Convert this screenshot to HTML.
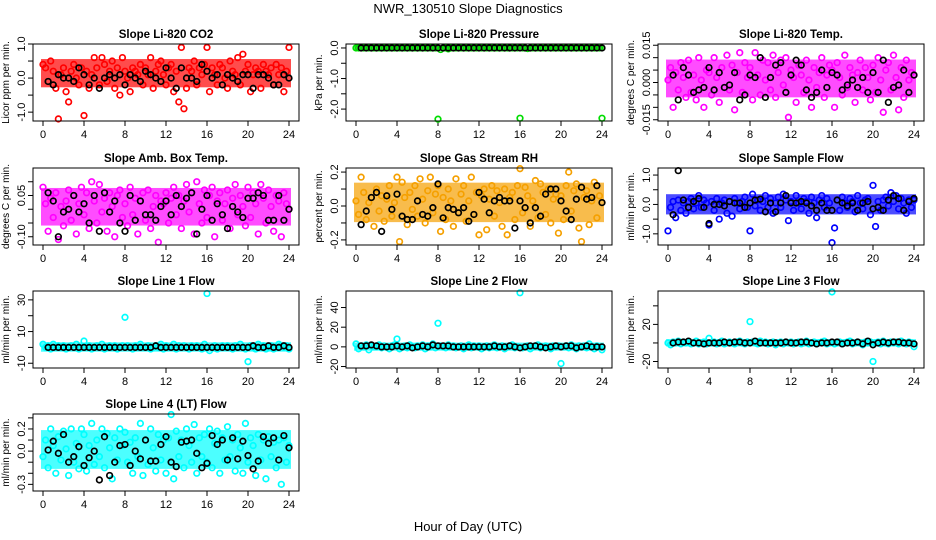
<!DOCTYPE html>
<html><head><meta charset="utf-8"><style>
html,body{margin:0;padding:0;background:#fff;}
svg{display:block;font-family:"Liberation Sans",sans-serif;}
</style></head><body>
<svg id="c" width="936" height="540" viewBox="0 0 936 540" xmlns="http://www.w3.org/2000/svg">
<text x="468" y="13" text-anchor="middle" font-size="13">NWR_130510  Slope Diagnostics</text>
<text x="468" y="531" text-anchor="middle" font-size="13">Hour of Day (UTC)</text>
</svg>
<script>
const co2Col=[0.4,0.3,-0.1,0.5,0.2,-0.3,-1.2,0.1,
0.3,-0.4,-0.7,0.2,0.4,0.0,-0.2,0.3,
-1.1,0.2,-0.3,0.1,0.6,0.3,-0.2,0.6,
0.4,-0.1,0.2,0.5,-0.3,0.3,-0.5,0.6,
0.2,0.0,-0.4,0.3,0.2,0.1,0.4,-0.2,
0.3,0.1,0.6,-0.3,0.2,0.4,0.5,0.1,
-0.2,0.3,0.4,-0.4,0.2,-0.7,0.9,-0.9,
-0.3,0.3,0.2,0.5,-0.2,0.3,0.1,0.4,
0.9,-0.4,0.3,0.1,-0.2,0.4,0.3,0.0,
-0.3,0.5,0.2,0.1,0.6,-0.2,0.7,0.2,
0.4,-0.4,0.1,0.3,0.2,-0.3,0.4,0.2,
0.1,0.3,-0.2,0.4,0.1,0.3,-0.4,0.2,0.9];
const co2Blk=[-0.1,-0.2,0.1,0.0,0.0,-0.1,0.3,0.1,
-0.2,0.0,-0.3,0.0,0.1,0.0,0.1,-0.2,
0.1,0.0,-0.1,0.2,0.1,0.0,-0.1,0.3,
0.0,-0.3,0.3,0.0,0.0,-0.1,0.4,0.2,
0.0,0.1,-0.2,0.1,0.0,-0.1,0.1,0.1,
-0.3,0.1,0.1,0.0,-0.2,-0.2,0.1,0.0];
const presCol=[0,0,0,0,0,0,0,0, 0,0,0,0,0,0,0,0, 0,0,0,0,0,0,0,0, 0,0,0,0,0,0,0,0,
-2.33,-0.05,0,0,-0.03,0,0,0, 0,0,0,0,0,0,0,0, 0,0,0,0,0,0,0,0, 0,0,0,0,0,0,0,0,
-2.3,0,0,-0.02,0,0,0,0, 0,0,0,0,0,0,0,0, 0,0,0,0,0,0,0,0, 0,0,0,0,0,0,0,0,-2.3];
const presBlk=[0,0,0,0,0,0,0,0, 0,0,0,0,0,0,0,0, 0,0,0,0,0,0,0,0, 0,0,0,0,0,0,0,0, 0,0,0,0,0,0,0,0, 0,0,0,0,0,0,0,0];
const ltCol=[0.001,0.006,-0.01,0.004,-0.003,0.008,0.002,-0.006,
0.009,-0.004,0.003,-0.007,0.01,0.001,-0.01,0.005,
0.004,-0.005,0.01,0.002,-0.008,0.006,-0.002,0.011,
-0.003,0.007,-0.011,0.004,0.012,-0.004,0.008,0.002,
0.006,-0.007,0.012,0.003,-0.005,0.009,0.001,0.008,
-0.003,0.011,-0.006,0.004,0.009,-0.001,0.01,-0.014,
0.005,0.002,-0.008,0.007,0.003,-0.004,0.009,0.001,
-0.01,0.006,-0.002,0.004,0.01,-0.006,0.003,0.007,
0.005,-0.01,0.008,0.002,-0.005,0.011,-0.002,0.006,
0.003,-0.008,0.004,0.009,-0.003,0.006,0.002,-0.007,
0.007,-0.004,0.01,0.001,-0.012,0.005,0.008,-0.003,
0.011,0.002,-0.011,0.006,-0.006,0.009,0.001,0.004,0.003];
const ltBlk=[0.003,-0.007,0.006,0.003,-0.004,-0.003,-0.002,0.006,
-0.003,0.004,-0.002,-0.001,0.004,-0.007,-0.005,0.003,
0.002,0.01,-0.006,0.002,0.007,0.008,-0.004,0.003,
0.009,0.007,-0.003,-0.006,-0.004,0.005,-0.002,0.004,
0.003,-0.003,-0.001,0.001,-0.002,0.002,-0.004,0.004,
-0.004,0.009,-0.008,-0.002,-0.001,0.005,-0.004,0.003];
const ambCol=[0.08,0.02,-0.08,0.04,-0.03,0.06,-0.11,0.01,
-0.06,0.03,0.07,-0.04,0.05,-0.09,0.02,0.08,
-0.02,0.06,-0.07,0.1,0.03,-0.05,0.09,-0.01,
0.04,-0.08,0.06,0.01,-0.1,0.05,0.07,-0.03,
0.02,-0.06,0.08,-0.02,0.04,-0.09,0.03,0.06,
-0.04,0.07,-0.07,0.01,0.05,-0.12,0.03,0.02,
0.06,-0.05,0.04,0.08,-0.02,0.05,-0.07,0.03,
0.09,-0.01,0.06,-0.09,0.1,0.02,-0.05,0.07,
-0.03,0.05,0.08,-0.1,0.03,0.06,-0.04,0.02,
0.07,-0.07,0.04,0.09,-0.02,0.05,0.01,-0.06,
0.08,-0.03,0.06,0.02,-0.09,0.09,0.04,-0.05,
0.07,0.01,-0.08,0.05,0.03,-0.1,0.06,0.02,0.0];
const ambBlk=[0.06,0.03,-0.1,-0.01,0.0,0.05,-0.01,0.02,
-0.05,0.05,-0.08,0.06,-0.01,0.03,-0.05,-0.08,
0.05,-0.04,0.03,-0.02,-0.02,-0.04,0.01,0.03,
-0.02,0.05,0.01,0.04,0.06,-0.09,0.0,0.05,
-0.04,0.02,-0.02,-0.07,0.01,-0.01,-0.03,0.04,
0.04,0.06,0.05,-0.04,-0.04,0.05,-0.04,0.0];
const rhCol=[0.03,-0.05,0.17,0.08,-0.08,0.02,0.05,-0.12,
0.1,-0.03,0.06,-0.09,0.04,0.12,-0.06,0.02,
0.17,-0.21,0.14,0.05,-0.11,0.08,-0.02,0.12,
-0.06,0.16,0.04,-0.1,0.09,0.17,-0.04,0.07,
0.12,-0.15,0.05,-0.08,0.1,0.03,-0.12,0.16,
-0.04,0.07,0.12,-0.09,0.03,0.17,-0.05,0.08,
-0.17,0.06,0.1,-0.14,0.04,0.12,-0.06,0.09,
0.02,-0.12,0.1,-0.17,0.05,0.08,-0.08,0.12,
0.22,-0.04,0.11,0.06,-0.12,0.03,0.15,-0.07,
0.13,0.08,-0.05,0.1,-0.1,0.04,0.07,-0.16,
0.06,-0.08,0.12,0.2,-0.03,0.09,0.13,-0.13,
-0.21,0.05,0.09,-0.11,0.03,0.14,-0.07,0.06,0.02];
const rhBlk=[-0.11,-0.03,0.05,0.08,-0.15,0.06,-0.02,0.07,
-0.06,-0.08,-0.08,0.03,-0.05,-0.06,-0.01,0.13,
-0.07,-0.01,-0.02,-0.04,-0.01,-0.09,-0.05,0.08,
0.04,-0.04,0.03,0.05,0.03,0.03,-0.13,0.03,
-0.01,-0.1,-0.01,-0.06,0.07,0.1,0.1,0.03,
-0.03,-0.08,0.04,0.11,0.04,0.05,0.12,0.02];
const sfCol=[-0.9,-0.1,0.1,-0.45,0.15,-0.2,0.05,-0.3,
0.1,0.2,-0.15,0.05,0.3,-0.1,0.15,0.05,
-0.7,0.1,-0.2,0.2,-0.5,0.05,0.15,-0.3,
0.1,-0.4,0.2,0.05,-0.15,0.1,0.25,-0.1,
-0.9,0.35,-0.05,0.15,-0.2,0.1,0.3,-0.1,
0.2,-0.3,0.05,0.25,-0.1,0.35,0.15,-0.55,
0.1,-0.2,0.3,0.05,-0.15,0.2,0.1,-0.3,
0.25,0.05,-0.45,0.15,0.3,-0.1,0.2,0.05,
-1.3,-0.8,0.15,-0.2,0.25,0.05,-0.1,0.2,
0.1,-0.25,0.3,0.05,-0.15,0.15,0.2,-0.35,
0.65,-0.75,0.1,-0.2,0.15,0.25,-0.05,0.4,
0.1,0.3,-0.15,0.2,0.05,-0.3,0.15,-0.1,0.15];
const sfBlk=[-0.35,1.15,0.15,-0.1,0.1,0.2,-0.1,-0.65,
0.0,0.0,-0.05,0.1,0.05,0.05,-0.1,0.05,
0.15,0.18,-0.25,0.05,-0.25,0.05,0.3,0.05,
0.05,0.1,0.05,-0.05,-0.2,0.05,-0.2,-0.2,
0.15,0.05,-0.05,0.05,-0.2,0.05,0.1,-0.15,
-0.1,-0.2,0.15,0.3,0.2,-0.2,0.1,0.2];
const l1Col=[2,0,1,-1,2,0,1,0,
1,-1,0,1,0,2,-1,0,
4,0,1,-1,0,1,0,2,
-1,0,1,0,1,-1,0,1,
19,1,0,-1,1,0,2,0,
0,1,-1,0,1,0,2,-1,
1,0,0,2,-1,1,0,1,
0,-1,1,0,1,0,-1,2,
34,-2,0,1,-1,0,1,0,
1,0,-1,1,0,2,0,-1,
-9,1,0,-1,2,0,1,-1,
0,1,-1,0,2,1,0,1,-1];
const l1Blk=[0,0,0,0,0,0,0,0, 0,0,0,0,0,0,0,0, 0,0,0,0,0,1,0,0, 0,0,0,0,0,0,0,0, 0,0,0,0,0,0,0,0, 1,0,0,1,0,0,1,0];
const l2Col=[3,-2,1,0,2,-3,1,0,
0,2,-1,1,0,-2,1,2,
8,-2,0,1,-1,2,0,-1,
1,0,2,-2,1,0,3,-1,
24,1,0,-1,2,0,1,-1,
0,1,-2,0,2,-1,1,0,
1,-2,0,1,-1,0,2,-1,
0,1,-2,0,1,2,-1,0,
55,-1,0,1,-2,0,1,2,
-1,0,1,0,-2,1,0,1,
-17,0,1,-1,2,0,-2,1,
0,1,-1,3,0,-2,1,0,-3];
const l2Blk=[1,1,2,1,0,0,0,1, 0,1,-1,0,1,0,2,1, 1,1,0,0,0,0,0,0, 0,0,1,0,0,1,0,-1, 0,1,1,0,-1,0,1,0, 1,1,-1,0,1,0,0,0];
const l3Col=[0,-2,1,0,2,-1,1,0,
1,-1,0,2,-1,0,1,-1,
5,0,1,-1,0,2,-1,0,
1,0,-1,1,2,0,-1,1,
23,1,0,-1,2,0,1,-1,
0,1,-2,0,1,-1,1,0,
1,-1,0,1,-1,0,2,-1,
0,1,-1,0,1,2,-1,0,
55,-1,0,1,-1,0,1,2,
-1,0,1,0,-2,1,0,1,
-20,0,1,-1,2,0,-1,1,
0,1,-1,2,0,-1,1,0,-4];
const l3Blk=[0,1,1,2,0,0,-1,0, 0,0,1,0,1,1,0,0, 2,0,0,0,0,0,1,0, 0,1,1,0,-1,0,0,1, 1,-1,0,0,1,-1,2,-2, 0,1,0,1,1,0,0,-1];
const l4Col=[-0.05,0.1,-0.15,0.2,0.05,-0.2,0.13,-0.08,
0.18,0.02,-0.22,0.2,-0.1,0.07,-0.16,0.2,
0.15,-0.18,0.05,0.25,-0.12,0.1,-0.05,0.2,
-0.15,0.16,0.03,-0.25,0.12,-0.08,0.2,0.05,
0.17,-0.1,0.08,-0.2,0.12,-0.05,0.25,-0.22,
0.1,-0.12,0.2,0.03,-0.18,0.15,-0.08,0.1,
-0.2,0.12,0.33,-0.25,0.18,-0.05,0.1,-0.15,
0.2,0.05,-0.1,0.24,-0.2,0.12,-0.05,0.15,
-0.1,0.2,-0.15,0.07,0.18,-0.2,0.12,-0.08,
0.22,-0.05,0.1,-0.18,0.15,0.03,-0.2,0.25,
-0.1,0.12,0.05,-0.22,0.15,-0.08,0.1,-0.25,
0.13,-0.05,0.08,-0.15,0.1,-0.3,0.12,-0.1,0.05];
const l4Blk=[0.01,0.09,-0.02,0.15,-0.1,-0.05,0.04,-0.13,
-0.06,0.0,-0.26,0.13,-0.22,-0.1,0.05,0.06,
-0.13,0.0,-0.07,0.1,-0.09,-0.09,0.06,0.13,
-0.1,-0.14,0.08,0.09,0.1,-0.02,-0.15,-0.11,
0.14,0.06,0.1,-0.08,0.12,-0.07,0.09,-0.04,
-0.16,-0.09,0.13,0.07,0.12,-0.08,0.14,0.03];
const xTicks=[0,4,8,12,16,20,24];

const NS="http://www.w3.org/2000/svg";
const svg=document.getElementById('c');
function mk(tag,attrs,parent){const e=document.createElementNS(NS,tag);for(const k in attrs)e.setAttribute(k,attrs[k]);(parent||svg).appendChild(e);return e;}
function spread(vals){
  let m=vals.reduce((a,b)=>a+b,0)/vals.length;
  let s=Math.sqrt(vals.reduce((a,b)=>a+(b-m)*(b-m),0)/vals.length);
  const core=vals.filter(v=>Math.abs(v-m)<=2.5*s);
  m=core.reduce((a,b)=>a+b,0)/core.length;
  s=Math.sqrt(core.reduce((a,b)=>a+(b-m)*(b-m),0)/core.length);
  return [m,s];
}
const colX=[33,346,658], rowY=[44,168,291,414], W=266, H=77;
function panel(col,row,title,ylab,color,ymin,ymax,ticks,labels,colVals,blkVals,name){
  const g=mk('g',{});
  
  
  const bx=colX[col], by=rowY[row];
  const sx=h=>bx+10+h/24*246;
  const sy=v=>by+H-(v-ymin)/(ymax-ymin)*H;
  const t=mk('text',{x:bx+W/2,y:by-6,'text-anchor':'middle','font-size':11.5,'font-weight':'bold'},g);t.textContent=title;
  
  
  const yl=mk('text',{x:0,y:0,transform:`translate(${bx-24},${by+H/2}) rotate(-90)`,'text-anchor':'middle','font-size':10},g);yl.textContent=ylab;
  
  
  mk('line',{x1:sx(0),x2:sx(24),y1:by+H,y2:by+H,stroke:'#000'},g);
  xTicks.forEach(h=>{mk('line',{x1:sx(h),x2:sx(h),y1:by+H,y2:by+H+5,stroke:'#000'},g);
    const tl=mk('text',{x:sx(h),y:by+H+17,'text-anchor':'middle','font-size':11},g);tl.textContent=h;
    
    });
  ticks.forEach((v,i)=>{mk('line',{x1:bx-5,x2:bx,y1:sy(v),y2:sy(v),stroke:'#000'},g);
    if(labels[i]){const tl=mk('text',{x:0,y:0,transform:`translate(${bx-8},${sy(v)}) rotate(-90)`,'text-anchor':'middle','font-size':11},g);tl.textContent=labels[i];
    
    }});
  // dense cloud band derived from the data spread
  const [m,s]=spread(colVals);
  const top=Math.max(sy(m+s)-2.5,by+1), bot=Math.min(sy(m-s)+2.5,by+H-1);
  const band=mk('rect',{x:sx(0)-2,y:top,width:246+4,height:Math.max(bot-top,4),fill:color,opacity:0.7},g);
  
  
  const pts=mk('g',{fill:'none','stroke-width':1.7},g);
  colVals.forEach((v,i)=>{const c=mk('circle',{cx:sx(i*24/(colVals.length-1)),cy:sy(v),r:2.8,stroke:color},pts);
    
    });
  blkVals.forEach((v,i)=>{const c=mk('circle',{cx:sx((i+1)*24/blkVals.length),cy:sy(v),r:2.8,stroke:'#000'},pts);
    
    });
  const box=mk('rect',{x:bx,y:by,width:W,height:H,fill:'none',stroke:'#000'},g);
  
  
}
panel(0,0,'Slope Li-820 CO2','Licor ppm per min.','#ff0000',-1.26,1.0,[-1,-0.5,0,0.5,1],['-1.0','','0.0','','1.0'],co2Col,co2Blk,'co2');
panel(1,0,'Slope Li-820 Pressure','kPa per min.','#00dd00',-2.39,0.13,[-2,-1.5,-1,-0.5,0],['-2.0','','-1.0','','0.0'],presCol,presBlk,'pressure');
panel(2,0,'Slope Li-820 Temp.','degrees C per min.','#ff00ff',-0.0155,0.0155,[-0.015,-0.01,-0.005,0,0.005,0.01,0.015],['-0.015','','','0.000','','','0.015'],ltCol,ltBlk,'li820-temp');
panel(0,1,'Slope Amb. Box Temp.','degrees C per min.','#ff00ff',-0.13,0.15,[-0.1,-0.05,0,0.05,0.1],['-0.10','','','0.05',''],ambCol,ambBlk,'amb-box-temp');
panel(1,1,'Slope Gas Stream RH','percent per min.','#f5a000',-0.23,0.224,[-0.2,-0.1,0,0.1,0.2],['-0.2','','0.0','','0.2'],rhCol,rhBlk,'gas-stream-rh');
panel(2,1,'Slope Sample Flow','ml/min per min.','#0000ff',-1.38,1.24,[-1,-0.5,0,0.5,1],['-1.0','','0.0','','1.0'],sfCol,sfBlk,'sample-flow');
panel(0,2,'Slope Line 1 Flow','ml/min per min.','#00ffff',-13,35.6,[-10,0,10,20,30],['-10','','10','','30'],l1Col,l1Blk,'line1-flow');
panel(1,2,'Slope Line 2 Flow','ml/min per min.','#00ffff',-21.5,56.8,[-20,0,20,40],['-20','0','20','40'],l2Col,l2Blk,'line2-flow');
panel(2,2,'Slope Line 3 Flow','ml/min per min.','#00ffff',-27,56,[-20,0,20,40],['-20','','20',''],l3Col,l3Blk,'line3-flow');
panel(0,3,'Slope Line 4 (LT) Flow','ml/min per min.','#00ffff',-0.36,0.335,[-0.3,-0.2,-0.1,0,0.1,0.2,0.3],['-0.3','','','0.0','','0.2',''],l4Col,l4Blk,'line4-flow');
</script>
</body></html>
